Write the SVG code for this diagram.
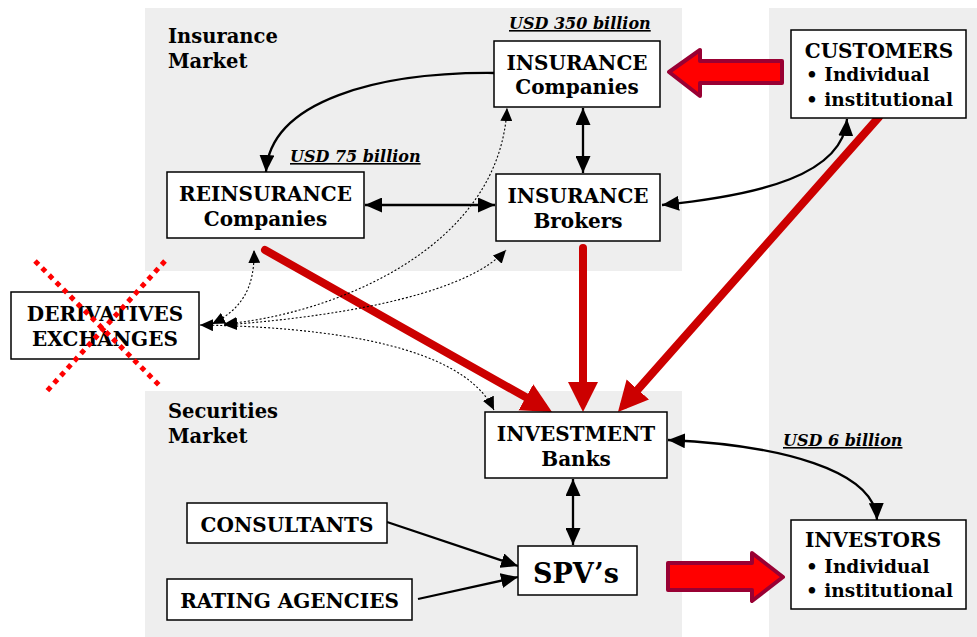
<svg xmlns="http://www.w3.org/2000/svg" width="977" height="637" viewBox="0 0 977 637">
<defs>
<style>
.panel{fill:#eeeeee}
.box{fill:#ffffff;stroke:#000;stroke-width:1.5}
.t{font-family:"DejaVu Serif","Liberation Serif",serif;font-weight:bold;font-size:20px;fill:#000}
.b{font-size:18.5px}
.lab{font-size:19.5px}
.spv{font-size:27px}
.usd{font-family:"DejaVu Serif","Liberation Serif",serif;font-weight:bold;font-style:italic;font-size:16px;text-decoration:underline;fill:#000}
.blk{fill:none;stroke:#000;stroke-width:2.3}
.dot{fill:none;stroke:#000;stroke-width:1.1;stroke-dasharray:2 2}
.red{fill:none;stroke:#cc0000;stroke-width:8;stroke-linecap:round}
.big{fill:#ff0000;stroke:#990033;stroke-width:4;stroke-linejoin:round}
.x{fill:none;stroke:#ff0000;stroke-width:5;stroke-dasharray:5 5}
</style>
<marker id="ah" markerUnits="userSpaceOnUse" markerWidth="18" markerHeight="15" refX="17" refY="7.5" orient="auto-start-reverse" viewBox="0 0 18 15">
<path d="M0,0 L17,7.5 L0,15 z" fill="#000"/>
</marker>
<marker id="ad" markerUnits="userSpaceOnUse" markerWidth="14" markerHeight="12" refX="13" refY="6" orient="auto-start-reverse" viewBox="0 0 14 12">
<path d="M0,0 L13,6 L0,12 z" fill="#000"/>
</marker>
<marker id="ar" markerUnits="userSpaceOnUse" markerWidth="32" markerHeight="32" refX="20" refY="15" orient="auto" viewBox="0 0 32 32">
<path d="M0,0 L30,15 L0,30 z" fill="#cc0000"/>
</marker>
</defs>

<g id="panels">
<rect class="panel" x="145" y="8" width="537" height="263"/>
<rect class="panel" x="145" y="391" width="537" height="246"/>
<rect class="panel" x="769" y="8" width="208" height="629"/>
</g>

<g id="labels">
<text class="t lab" x="168" y="43">Insurance</text>
<text class="t lab" x="168" y="68">Market</text>
<text class="t lab" x="168" y="418">Securities</text>
<text class="t lab" x="168" y="443">Market</text>
<text class="usd" x="509" y="29">USD 350 billion</text>
<text class="usd" x="290" y="162">USD 75 billion</text>
<text class="usd" x="783" y="446">USD 6 billion</text>
</g>

<g id="connectors">
<path class="red" d="M265,250 L543.3,407.1" marker-end="url(#ar)"/>
<path class="red" d="M583,248 L583,402" marker-end="url(#ar)"/>
<path class="red" d="M879,117 L624.6,404.5" marker-end="url(#ar)"/>
<path class="blk" d="M494,73 C380,72 270,100 266,172" marker-end="url(#ah)"/>
<path class="blk" d="M583,108 L583,173" marker-start="url(#ah)" marker-end="url(#ah)"/>
<path class="blk" d="M365,205 L495,205" marker-start="url(#ah)" marker-end="url(#ah)"/>
<path class="blk" d="M847,119 C843,175 760,195 662,205" marker-start="url(#ah)" marker-end="url(#ah)"/>
<path class="blk" d="M668,440 C780,445 875,470 877,520" marker-start="url(#ah)" marker-end="url(#ah)"/>
<path class="blk" d="M573,479 L573,545" marker-start="url(#ah)" marker-end="url(#ah)"/>
<path class="blk" d="M387,522 L518,566" marker-end="url(#ah)"/>
<path class="blk" d="M418,599 L518,577" marker-end="url(#ah)"/>
<path class="dot" d="M212,324 C240,310 255,290 254,250" marker-start="url(#ad)" marker-end="url(#ad)"/>
<path class="dot" d="M224,324 C330,315 500,250 507,108" marker-start="url(#ad)" marker-end="url(#ad)"/>
<path class="dot" d="M224,325 C360,315 470,290 506,250" marker-start="url(#ad)" marker-end="url(#ad)"/>
<path class="dot" d="M200,325 C380,328 470,360 494,410" marker-start="url(#ad)" marker-end="url(#ad)"/>
<polygon class="big" points="669,72 700,50 700,61 782,61 782,83 700,83 700,96"/>
<polygon class="big" points="668,563 752,563 752,553 783,577 752,601 752,590 668,590"/>
</g>

<g id="insurance-companies">
<rect class="box" x="494" y="41" width="166" height="66"/>
<text class="t" x="577" y="70" text-anchor="middle">INSURANCE</text>
<text class="t" x="577" y="94" text-anchor="middle">Companies</text>
</g>
<g id="customers">
<rect class="box" x="791" y="30" width="175" height="88"/>
<text class="t" x="879" y="58" text-anchor="middle">CUSTOMERS</text>
<text class="t b" x="806" y="81">• Individual</text>
<text class="t b" x="806" y="106">• institutional</text>
</g>
<g id="reinsurance">
<rect class="box" x="167" y="172" width="197" height="66"/>
<text class="t" x="265.5" y="201" text-anchor="middle">REINSURANCE</text>
<text class="t" x="265.5" y="226" text-anchor="middle">Companies</text>
</g>
<g id="brokers">
<rect class="box" x="496" y="174" width="164" height="67"/>
<text class="t" x="578" y="203" text-anchor="middle">INSURANCE</text>
<text class="t" x="578" y="228" text-anchor="middle">Brokers</text>
</g>
<g id="derivatives">
<rect class="box" x="11" y="292" width="188" height="67"/>
<text class="t" x="105" y="321" text-anchor="middle">DERIVATIVES</text>
<text class="t" x="105" y="346" text-anchor="middle">EXCHANGES</text>
<path class="x" d="M35,261 L160,386"/>
<path class="x" d="M165,261 L47,391"/>
</g>
<g id="investment-banks">
<rect class="box" x="485" y="412" width="182" height="66"/>
<text class="t" x="576" y="441" text-anchor="middle">INVESTMENT</text>
<text class="t" x="576" y="466" text-anchor="middle">Banks</text>
</g>
<g id="consultants">
<rect class="box" x="187" y="503" width="200" height="40"/>
<text class="t" x="287" y="532" text-anchor="middle">CONSULTANTS</text>
</g>
<g id="rating-agencies">
<rect class="box" x="167" y="579" width="245" height="41"/>
<text class="t" x="289.5" y="608" text-anchor="middle">RATING AGENCIES</text>
</g>
<g id="spvs">
<rect class="box" x="518" y="546" width="119" height="49"/>
<text class="t spv" x="576" y="583" text-anchor="middle">SPV’s</text>
</g>
<g id="investors">
<rect class="box" x="791" y="520" width="175" height="89"/>
<text class="t" x="873" y="547" text-anchor="middle">INVESTORS</text>
<text class="t b" x="806" y="573">• Individual</text>
<text class="t b" x="806" y="597">• institutional</text>
</g>
</svg>
